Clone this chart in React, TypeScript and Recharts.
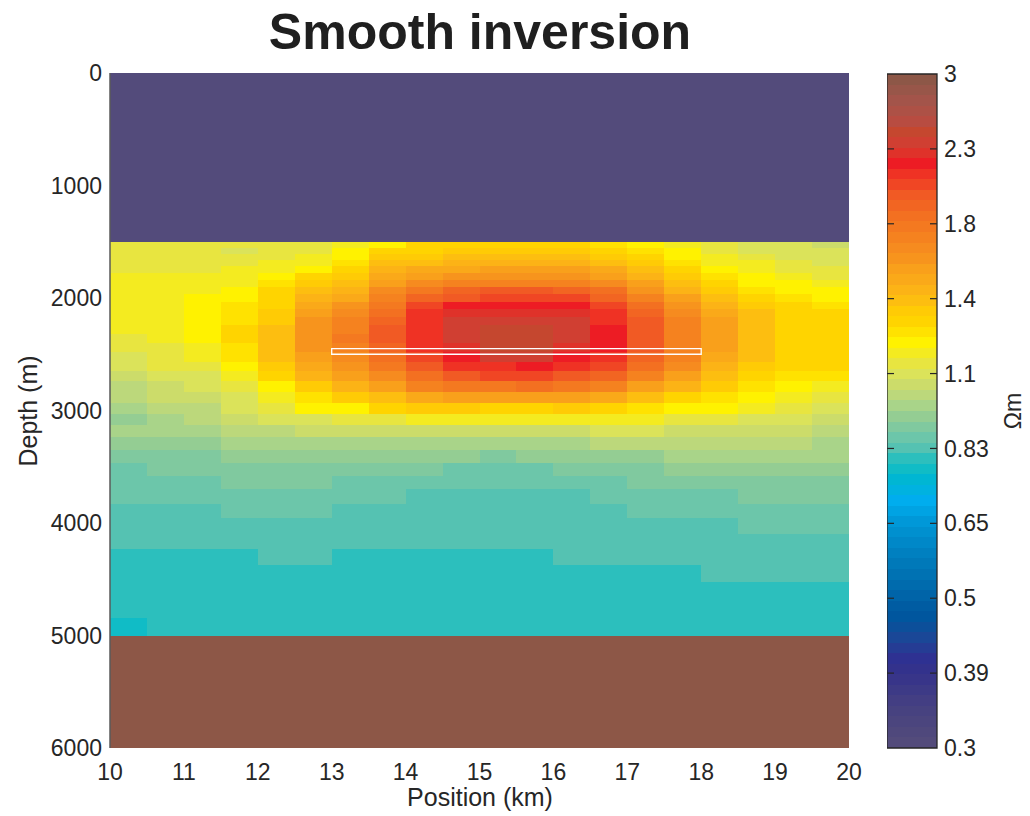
import React from 'react';
import { ComposedChart, XAxis, YAxis, ReferenceArea, ReferenceLine } from 'recharts';

// ---- Model grid -----------------------------------------------------------
// Cell edges along the profile (km) and in depth (m) for the inverted zone.
const positionEdges = [
  10, 10.5, 11, 11.5, 12, 12.5, 13, 13.5, 14, 14.5, 15,
  15.5, 16, 16.5, 17, 17.5, 18, 18.5, 19, 19.5, 20,
];
const depthEdges = [
  1500, 1553, 1607, 1660, 1714, 1776, 1839, 1901, 1963, 2034, 2096, 2167,
  2238, 2318, 2398, 2478, 2567, 2647, 2736, 2833, 2931, 3029, 3126, 3233,
  3349, 3464, 3580, 3695, 3829, 3953, 4095, 4229, 4370, 4521, 4681, 4841, 5000,
];

// Inverted resistivity (Ohm-m): one row per depth cell, one value per position cell.
const resistivity: number[][] = [
  [1.12, 1.12, 1.12, 1.12, 1.12, 1.12, 1.16, 1.2, 1.29, 1.29, 1.29, 1.29, 1.29, 1.24, 1.2, 1.16, 1.12, 1.08, 1.08, 1.04],
  [1.12, 1.12, 1.12, 1.08, 1.12, 1.12, 1.2, 1.29, 1.29, 1.34, 1.34, 1.34, 1.34, 1.29, 1.24, 1.2, 1.12, 1.08, 1.08, 1.08],
  [1.12, 1.12, 1.12, 1.12, 1.12, 1.16, 1.2, 1.34, 1.34, 1.38, 1.38, 1.38, 1.38, 1.34, 1.29, 1.2, 1.16, 1.12, 1.08, 1.08],
  [1.12, 1.12, 1.12, 1.12, 1.16, 1.16, 1.24, 1.38, 1.38, 1.44, 1.44, 1.44, 1.44, 1.38, 1.34, 1.24, 1.16, 1.16, 1.12, 1.08],
  [1.12, 1.12, 1.12, 1.16, 1.16, 1.2, 1.29, 1.44, 1.49, 1.49, 1.54, 1.54, 1.54, 1.49, 1.38, 1.29, 1.2, 1.16, 1.12, 1.12],
  [1.16, 1.16, 1.16, 1.16, 1.2, 1.29, 1.34, 1.49, 1.54, 1.6, 1.6, 1.6, 1.6, 1.54, 1.44, 1.34, 1.24, 1.2, 1.16, 1.12],
  [1.16, 1.16, 1.16, 1.16, 1.24, 1.34, 1.38, 1.54, 1.66, 1.72, 1.72, 1.72, 1.72, 1.66, 1.54, 1.38, 1.29, 1.2, 1.2, 1.16],
  [1.16, 1.16, 1.16, 1.2, 1.29, 1.38, 1.44, 1.66, 1.78, 1.91, 1.98, 1.98, 1.91, 1.85, 1.6, 1.44, 1.34, 1.24, 1.2, 1.2],
  [1.16, 1.16, 1.2, 1.2, 1.29, 1.44, 1.49, 1.72, 1.91, 1.98, 2.06, 2.06, 2.06, 1.91, 1.72, 1.54, 1.38, 1.29, 1.24, 1.2],
  [1.16, 1.16, 1.2, 1.24, 1.29, 1.49, 1.6, 1.78, 2.06, 2.21, 2.21, 2.21, 2.21, 2.06, 1.85, 1.6, 1.44, 1.34, 1.29, 1.24],
  [1.16, 1.16, 1.2, 1.24, 1.34, 1.54, 1.66, 1.85, 2.13, 2.29, 2.29, 2.29, 2.29, 2.13, 1.91, 1.66, 1.49, 1.38, 1.29, 1.29],
  [1.16, 1.16, 1.2, 1.24, 1.34, 1.6, 1.72, 1.91, 2.13, 2.37, 2.37, 2.37, 2.37, 2.13, 1.98, 1.72, 1.54, 1.38, 1.29, 1.29],
  [1.16, 1.16, 1.2, 1.29, 1.38, 1.6, 1.72, 1.98, 2.13, 2.37, 2.46, 2.46, 2.37, 2.21, 1.98, 1.72, 1.54, 1.38, 1.29, 1.29],
  [1.12, 1.16, 1.2, 1.29, 1.38, 1.6, 1.78, 1.98, 2.13, 2.37, 2.46, 2.46, 2.37, 2.21, 1.98, 1.72, 1.54, 1.38, 1.29, 1.29],
  [1.12, 1.12, 1.16, 1.24, 1.38, 1.6, 1.72, 1.91, 2.13, 2.29, 2.46, 2.46, 2.29, 2.21, 1.98, 1.72, 1.54, 1.38, 1.29, 1.29],
  [1.08, 1.12, 1.16, 1.24, 1.38, 1.54, 1.66, 1.85, 2.06, 2.21, 2.37, 2.37, 2.21, 2.13, 1.91, 1.72, 1.49, 1.38, 1.29, 1.29],
  [1.08, 1.12, 1.12, 1.2, 1.34, 1.49, 1.6, 1.78, 1.98, 2.13, 2.13, 2.21, 2.13, 2.06, 1.85, 1.66, 1.44, 1.34, 1.29, 1.29],
  [1.04, 1.08, 1.08, 1.16, 1.29, 1.44, 1.54, 1.66, 1.85, 1.98, 2.06, 2.06, 1.98, 1.91, 1.72, 1.54, 1.38, 1.29, 1.24, 1.24],
  [1.0, 1.04, 1.08, 1.12, 1.2, 1.34, 1.44, 1.54, 1.72, 1.78, 1.78, 1.85, 1.78, 1.72, 1.54, 1.44, 1.34, 1.24, 1.2, 1.16],
  [1.0, 1.04, 1.04, 1.08, 1.16, 1.24, 1.34, 1.38, 1.49, 1.54, 1.54, 1.54, 1.54, 1.49, 1.38, 1.29, 1.24, 1.2, 1.16, 1.12],
  [0.97, 1.0, 1.0, 1.08, 1.12, 1.2, 1.2, 1.29, 1.34, 1.34, 1.29, 1.29, 1.34, 1.29, 1.24, 1.2, 1.2, 1.16, 1.12, 1.08],
  [0.93, 0.97, 1.0, 1.04, 1.08, 1.08, 1.12, 1.12, 1.16, 1.16, 1.16, 1.16, 1.16, 1.16, 1.16, 1.12, 1.12, 1.08, 1.08, 1.04],
  [0.97, 0.97, 0.97, 1.0, 1.0, 1.04, 1.04, 1.04, 1.04, 1.04, 1.04, 1.04, 1.04, 1.08, 1.08, 1.04, 1.04, 1.04, 1.04, 1.0],
  [0.93, 0.93, 0.93, 0.97, 0.97, 0.97, 0.97, 0.97, 0.97, 0.97, 0.97, 0.97, 0.97, 1.0, 1.0, 1.0, 1.0, 1.0, 1.0, 0.97],
  [0.9, 0.9, 0.9, 0.93, 0.93, 0.93, 0.93, 0.93, 0.93, 0.93, 0.9, 0.93, 0.93, 0.93, 0.93, 0.97, 0.97, 0.97, 0.97, 0.97],
  [0.87, 0.9, 0.9, 0.9, 0.9, 0.9, 0.9, 0.9, 0.9, 0.87, 0.87, 0.87, 0.9, 0.9, 0.9, 0.93, 0.93, 0.93, 0.93, 0.93],
  [0.87, 0.87, 0.87, 0.9, 0.9, 0.9, 0.87, 0.87, 0.87, 0.87, 0.87, 0.87, 0.87, 0.87, 0.9, 0.9, 0.9, 0.9, 0.9, 0.9],
  [0.87, 0.87, 0.87, 0.87, 0.87, 0.87, 0.87, 0.87, 0.84, 0.84, 0.84, 0.84, 0.84, 0.87, 0.87, 0.87, 0.87, 0.9, 0.9, 0.9],
  [0.84, 0.84, 0.84, 0.87, 0.87, 0.87, 0.84, 0.84, 0.84, 0.84, 0.84, 0.84, 0.84, 0.84, 0.87, 0.87, 0.87, 0.87, 0.87, 0.87],
  [0.84, 0.84, 0.84, 0.84, 0.84, 0.84, 0.84, 0.84, 0.84, 0.84, 0.84, 0.84, 0.84, 0.84, 0.84, 0.84, 0.84, 0.87, 0.87, 0.87],
  [0.84, 0.84, 0.84, 0.84, 0.84, 0.84, 0.84, 0.84, 0.84, 0.84, 0.84, 0.84, 0.84, 0.84, 0.84, 0.84, 0.84, 0.84, 0.84, 0.84],
  [0.81, 0.81, 0.81, 0.81, 0.84, 0.84, 0.81, 0.81, 0.81, 0.81, 0.81, 0.81, 0.84, 0.84, 0.84, 0.84, 0.84, 0.84, 0.84, 0.84],
  [0.81, 0.81, 0.81, 0.81, 0.81, 0.81, 0.81, 0.81, 0.81, 0.81, 0.81, 0.81, 0.81, 0.81, 0.81, 0.81, 0.84, 0.84, 0.84, 0.84],
  [0.81, 0.81, 0.81, 0.81, 0.81, 0.81, 0.81, 0.81, 0.81, 0.81, 0.81, 0.81, 0.81, 0.81, 0.81, 0.81, 0.81, 0.81, 0.81, 0.81],
  [0.81, 0.81, 0.81, 0.81, 0.81, 0.81, 0.81, 0.81, 0.81, 0.81, 0.81, 0.81, 0.81, 0.81, 0.81, 0.81, 0.81, 0.81, 0.81, 0.81],
  [0.78, 0.81, 0.81, 0.81, 0.81, 0.81, 0.81, 0.81, 0.81, 0.81, 0.81, 0.81, 0.81, 0.81, 0.81, 0.81, 0.81, 0.81, 0.81, 0.81],
];

// Fixed layers above and below the inverted zone.
const topLayerDepth = [0, 1500];
const topLayerRho = 0.3;
const basementDepth = [5000, 6000];
const basementRho = 3;

// Reservoir outline.
const reservoirPosition = [13, 18];
const reservoirDepth = [2450, 2500];

// Axis ticks.
const positionTicks = [10, 11, 12, 13, 14, 15, 16, 17, 18, 19, 20];
const depthTicks = [0, 1000, 2000, 3000, 4000, 5000, 6000];
const colorTicks = [0.3, 0.38747, 0.50043, 0.64633, 0.83477, 1.07814, 1.39248, 1.79845, 2.32279, 3];
const colorTickLabels = ['0.3', '0.39', '0.5', '0.65', '0.83', '1.1', '1.4', '1.8', '2.3', '3'];

// ---- Colour map (64 levels, log-spaced between RHO_MIN and RHO_MAX) -------
const RHO_MIN = 0.3;
const RHO_MAX = 3;
const PALETTE = [
  '#534b7b', '#4f487c', '#4b457e', '#474280', '#433e83', '#3d3a86', '#383589', '#33328c',
  '#2e3192', '#253c94', '#1a4797', '#0c4f9a', '#00569e', '#005ca2', '#0064a8', '#006bad',
  '#0072b3', '#0079b9', '#0080c0', '#0088c8', '#0090cf', '#0098d8', '#00a3e3', '#00adee',
  '#00b2e0', '#00b6d3', '#10bcc6', '#2cbfbd', '#55c2b2', '#6cc6aa', '#80c99f', '#94cd93',
  '#a9d489', '#bcd87b', '#ccdc6a', '#dbe35a', '#e8e540', '#f4eb20', '#fff200', '#ffe200',
  '#ffd400', '#ffcb05', '#fdbe10', '#fcb316', '#faa919', '#f9a01b', '#f7941d', '#f68b1f',
  '#f5821f', '#f47920', '#f37021', '#f26522', '#f15a24', '#f04624', '#ef3224', '#ed1c24',
  '#df322a', '#d03f32', '#c5472f', '#b84c41', '#ad5146', '#a3544a', '#985649', '#8d5747',
];
const LEVELS = PALETTE.length;

function colorFor(rho: number): string {
  const t = Math.log10(rho / RHO_MIN) / Math.log10(RHO_MAX / RHO_MIN);
  const k = Math.min(LEVELS - 1, Math.max(0, Math.floor(t * LEVELS + 1e-9)));
  return PALETTE[k];
}

const FONT = '"Liberation Sans", Arial, Helvetica, sans-serif';
const TEXT = '#262626';
const tickStyle = { fontSize: 23, fill: TEXT, fontFamily: FONT };

type Cell = { x1: number; x2: number; y1: number; y2: number; rho: number };

const cells: Cell[] = [];
cells.push({ x1: positionEdges[0], x2: positionEdges[positionEdges.length - 1], y1: topLayerDepth[0], y2: topLayerDepth[1], rho: topLayerRho });
resistivity.forEach((row, i) => {
  row.forEach((rho, j) => {
    cells.push({ x1: positionEdges[j], x2: positionEdges[j + 1], y1: depthEdges[i], y2: depthEdges[i + 1], rho });
  });
});
cells.push({ x1: positionEdges[0], x2: positionEdges[positionEdges.length - 1], y1: basementDepth[0], y2: basementDepth[1], rho: basementRho });

// Colour-bar bands: one per palette level, evenly spaced on the log axis.
const bands = PALETTE.map((fill, k) => ({
  y1: RHO_MIN * Math.pow(RHO_MAX / RHO_MIN, k / LEVELS),
  y2: RHO_MIN * Math.pow(RHO_MAX / RHO_MIN, (k + 1) / LEVELS),
  fill,
}));

const CrispRect = (p: any) => (
  <rect
    x={p.x}
    y={p.y}
    width={Math.abs(p.width)}
    height={Math.abs(p.height)}
    fill={p.fill}
    shapeRendering="crispEdges"
  />
);

function colorLabel(v: number): string {
  const i = colorTicks.findIndex((t) => Math.abs(t - v) < 1e-6);
  return i >= 0 ? colorTickLabels[i] : String(v);
}

export default function App() {
  return (
    <div style={{ position: 'absolute', left: 0, top: 0, width: 1030, height: 816, background: '#fff' }}>
      <div style={{ position: 'absolute', left: 0, top: 0 }}>
        <ComposedChart width={880} height={816} margin={{ top: 73, right: 31, bottom: 38, left: 50 }}>
          <XAxis
            type="number"
            dataKey="x"
            domain={[10, 20]}
            ticks={positionTicks}
            allowDataOverflow
            interval={0}
            height={30}
            axisLine={false}
            tickLine={false}
            tickSize={0}
            tickMargin={16}
            tick={tickStyle}
          />
          <YAxis
            type="number"
            dataKey="y"
            domain={[0, 6000]}
            reversed
            ticks={depthTicks}
            allowDataOverflow
            interval={0}
            width={60}
            axisLine={false}
            tickLine={false}
            tickSize={0}
            tickMargin={8}
            tick={tickStyle}
          />
          {cells.map((c, i) => (
            <ReferenceArea
              key={`cell-${i}`}
              x1={c.x1}
              x2={c.x2}
              y1={c.y1}
              y2={c.y2}
              fill={colorFor(c.rho)}
              fillOpacity={1}
              stroke="none"
              ifOverflow="visible"
              shape={CrispRect}
            />
          ))}
          <ReferenceArea
            x1={reservoirPosition[0]}
            x2={reservoirPosition[1]}
            y1={reservoirDepth[0]}
            y2={reservoirDepth[1]}
            fill="none"
            fillOpacity={0}
            stroke="#ffffff"
            strokeWidth={1.3}
            ifOverflow="visible"
          />
          {/* left spine of the section */}
          <ReferenceLine x={10} stroke="#5a5a5a" strokeWidth={1.5} ifOverflow="visible" />
        </ComposedChart>
      </div>

      <div style={{ position: 'absolute', left: 887, top: 0 }}>
        <ComposedChart width={143} height={816} margin={{ top: 74, right: 0, bottom: 68, left: 0 }}>
          <XAxis type="number" dataKey="x" domain={[0, 1]} allowDataOverflow hide />
          <YAxis
            type="number"
            dataKey="y"
            scale="log"
            domain={[RHO_MIN, RHO_MAX]}
            orientation="right"
            ticks={colorTicks}
            allowDataOverflow
            interval={0}
            width={93}
            axisLine={false}
            tickLine={false}
            tickSize={0}
            tickMargin={7}
            tick={tickStyle}
            tickFormatter={colorLabel}
          />
          {bands.map((b, k) => (
            <ReferenceArea
              key={`band-${k}`}
              x1={0}
              x2={1}
              y1={b.y1}
              y2={b.y2}
              fill={b.fill}
              fillOpacity={1}
              stroke="none"
              ifOverflow="visible"
              shape={CrispRect}
            />
          ))}
          {colorTicks.slice(1, -1).map((t) => (
            <ReferenceLine
              key={`tl-${t}`}
              segment={[{ x: 0, y: t }, { x: 0.14, y: t }]}
              stroke={TEXT}
              strokeWidth={1.2}
              ifOverflow="visible"
            />
          ))}
          {colorTicks.slice(1, -1).map((t) => (
            <ReferenceLine
              key={`tr-${t}`}
              segment={[{ x: 0.86, y: t }, { x: 1, y: t }]}
              stroke={TEXT}
              strokeWidth={1.2}
              ifOverflow="visible"
            />
          ))}
          <ReferenceArea
            x1={0}
            x2={1}
            y1={RHO_MIN}
            y2={RHO_MAX}
            fill="none"
            fillOpacity={0}
            stroke={TEXT}
            strokeWidth={1.3}
            ifOverflow="visible"
          />
        </ComposedChart>
      </div>

      <svg
        width={1030}
        height={816}
        style={{ position: 'absolute', left: 0, top: 0, pointerEvents: 'none' }}
      >
        <text x={480} y={49} textAnchor="middle" fontSize={50} fontWeight="bold" fontFamily={FONT} fill="#1f1f1f">
          Smooth inversion
        </text>
        <text x={480} y={806} textAnchor="middle" fontSize={25} fontFamily={FONT} fill={TEXT}>
          Position (km)
        </text>
        <text x={37} y={411} textAnchor="middle" fontSize={25} fontFamily={FONT} fill={TEXT} transform="rotate(-90, 37, 411)">
          Depth (m)
        </text>
        <text x={1021} y={411} textAnchor="middle" fontSize={23} fontFamily={FONT} fill={TEXT} transform="rotate(-90, 1021, 411)">
          Ωm
        </text>
      </svg>
    </div>
  );
}
